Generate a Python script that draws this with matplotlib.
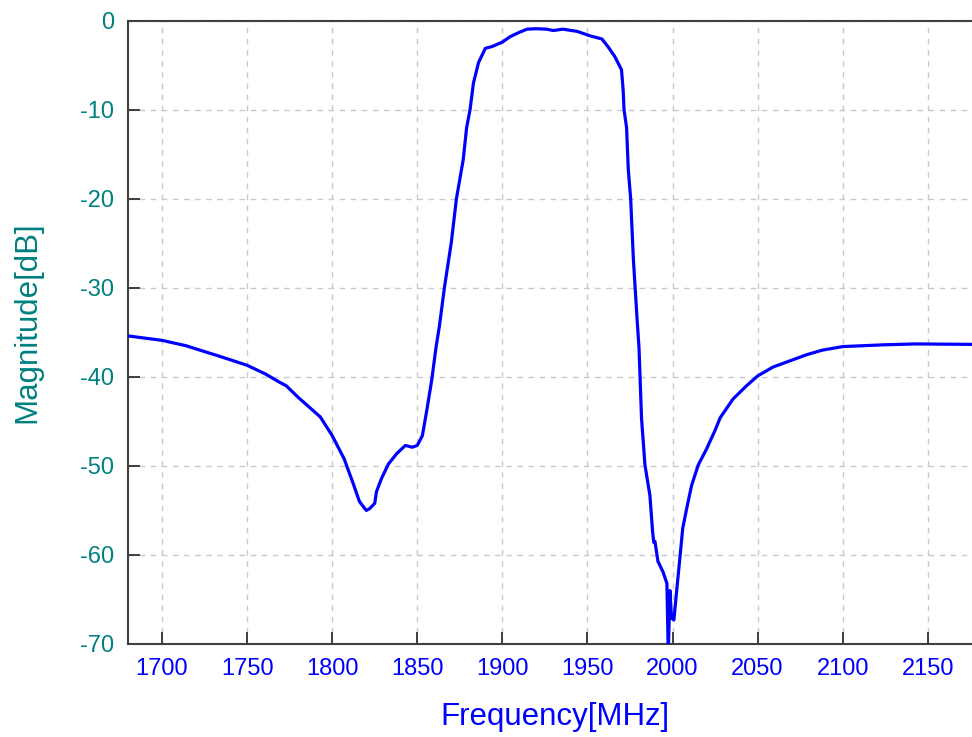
import matplotlib
matplotlib.use("Agg")
import matplotlib.pyplot as plt

plt.rcParams['font.family'] = ['Liberation Sans', 'DejaVu Sans']
plt.rcParams['axes.unicode_minus'] = False

# frequency [MHz] and magnitude [dB]
freq = [1680, 1700, 1714, 1724, 1734, 1750, 1761, 1769, 1773, 1780,
        1793, 1800, 1807, 1812, 1816, 1820, 1822, 1825, 1826, 1829,
        1833, 1838, 1843, 1847, 1850, 1853, 1856, 1858.6, 1861, 1863,
        1866, 1870, 1873, 1877, 1879, 1881, 1883, 1886, 1890, 1894,
        1900, 1904.5, 1910, 1914.5, 1920, 1926, 1930, 1935.6, 1944, 1951.5,
        1958.5, 1962, 1966, 1970, 1971, 1971.5, 1973, 1974, 1975.4, 1977,
        1978, 1979.3, 1980.3, 1981.8, 1983.8, 1986.7, 1988.3, 1989, 1989.7, 1991.4,
        1994.4, 1996.7, 1997.5, 1998.5, 1999.4, 2000.8, 2002.4, 2004.3, 2006, 2008.3,
        2011.2, 2015.1, 2020, 2025, 2028, 2035.5, 2043.5, 2050, 2059, 2069,
        2079, 2088, 2100, 2124, 2143, 2176]
mag = [-35.4, -35.9, -36.5, -37.1, -37.7, -38.7, -39.7, -40.6, -41.0, -42.3,
       -44.5, -46.6, -49.2, -51.8, -54.0, -55.0, -54.8, -54.2, -52.9, -51.4,
       -49.8, -48.6, -47.7, -47.9, -47.7, -46.6, -43.3, -40.2, -36.7, -34.3,
       -29.9, -24.9, -20.0, -15.6, -12.0, -10.0, -7.0, -4.7, -3.1, -2.9,
       -2.4, -1.8, -1.3, -0.95, -0.9, -0.95, -1.1, -0.95, -1.2, -1.7,
       -2.05, -2.9, -4.0, -5.5, -7.8, -10.0, -12.0, -16.7, -20.0, -26.8,
       -29.9, -33.9, -36.7, -44.7, -49.9, -53.3, -57.4, -58.6, -58.5, -60.7,
       -61.9, -63.2, -71.0, -64.0, -67.1, -67.3, -64.1, -60.4, -57.0, -54.8,
       -52.2, -49.9, -48.1, -46.0, -44.6, -42.5, -41.0, -39.9, -38.9, -38.2,
       -37.5, -37.0, -36.6, -36.4, -36.3, -36.35]

xticks = [1700, 1750, 1800, 1850, 1900, 1950, 2000, 2050, 2100, 2150]
yticks = [0, -10, -20, -30, -40, -50, -60, -70]

teal = '#008080'
blue = '#0000ff'

fig = plt.figure(figsize=(9.72, 7.37), dpi=100)
ax = fig.add_axes([0.1317, 0.1262, 0.8683, 0.8457])

ax.plot(freq, mag, color=blue, linewidth=2.3, zorder=3)

ax.set_xlim(1680, 2176)
ax.set_ylim(-70, 0)
ax.set_xticks(xticks)
ax.set_yticks(yticks)
ax.set_xticklabels([str(t) for t in xticks])
ax.set_yticklabels([str(t) for t in yticks])

ax.grid(True, linestyle=(0, (4, 4)), color='#c8c8c8', linewidth=1.0, zorder=0)
ax.set_axisbelow(True)

ax.tick_params(axis='both', direction='in', length=8.5, width=1.3, color='#303030')
ax.tick_params(axis='x', labelsize=17, labelcolor=blue, pad=10)
ax.tick_params(axis='y', labelsize=17, labelcolor=teal, pad=10)

for s in ['left', 'bottom', 'top']:
    ax.spines[s].set_color('#404040')
    ax.spines[s].set_linewidth(1.5)
ax.spines['right'].set_visible(False)

# axis titles placed like in the original
fig.text(555 / 972, 1 - 725 / 737, 'Frequency[MHz]', fontsize=22.5, color=blue,
         ha='center', va='baseline')
fig.text(27 / 972, 1 - 322 / 737, 'Magnitude[dB]', fontsize=22.5, color=teal,
         rotation=90, ha='center', va='center')

fig.savefig('out.png', dpi=100)
